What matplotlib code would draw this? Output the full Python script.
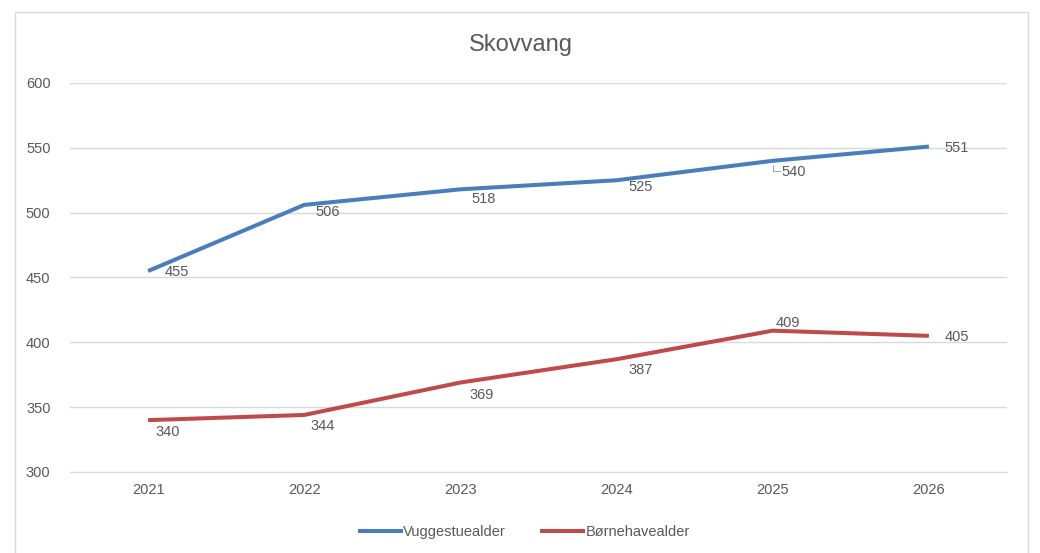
import matplotlib
matplotlib.use("Agg")
import matplotlib.pyplot as plt
from matplotlib.patches import Rectangle
from matplotlib.lines import Line2D

years = ["2021", "2022", "2023", "2024", "2025", "2026"]
vuggestue = [455, 506, 518, 525, 540, 551]
boernehave = [340, 344, 369, 387, 409, 405]
series_names = ["Vuggestuealder", "Børnehavealder"]
title = "Skovvang"

blue = "#4A7EBB"
red = "#BE4B48"
txt = "#595959"
font = "Liberation Sans"
plt.rcParams["font.family"] = [font, "DejaVu Sans"]

fig = plt.figure(figsize=(10.4, 5.53), dpi=100)
ax = fig.add_axes([70/1040, 1-472/553, (1007-70)/1040, (472-83)/553])

x = list(range(len(years)))
ax.plot(x, vuggestue, color=blue, lw=2.9, solid_capstyle="butt", label=series_names[0])
ax.plot(x, boernehave, color=red, lw=2.9, solid_capstyle="butt", label=series_names[1])

ax.set_xlim(-0.5, len(years) - 0.5)
ax.set_ylim(300, 600)
ax.set_yticks(range(300, 601, 50))
ax.set_xticks(x)
ax.set_xticklabels(years)
ax.grid(axis="y", color="#d9d9d9", lw=1)
ax.set_axisbelow(True)
for s in ax.spines.values():
    s.set_visible(False)
ax.spines["bottom"].set_visible(True)
ax.spines["bottom"].set_color("#d9d9d9")
ax.tick_params(length=0, labelsize=10.5, labelcolor=txt, pad=8)
ax.tick_params(axis="y", pad=14)

# label offsets in pixels (dx, dy), dy downward positive
px = 0.72
off_b = [(29, 1), (23, 7), (23, 10), (24, 7), (21, 11), (28, 1)]
off_r = [(20, 12), (18, 11), (21, 12), (24, 11), (15, -8), (28, 1)]
for i, v in enumerate(vuggestue):
    dx, dy = off_b[i]
    ax.annotate(str(v), (i, v), xytext=(dx*px, -dy*px), textcoords="offset points",
                ha="center", va="center", fontsize=10.5, color=txt)
for i, v in enumerate(boernehave):
    dx, dy = off_r[i]
    ax.annotate(str(v), (i, v), xytext=(dx*px, -dy*px), textcoords="offset points",
                ha="center", va="center", fontsize=10.5, color=txt)

# leader line for the 540 label
ax.annotate("", xy=(4, 540), xytext=(7*px, -10*px), textcoords="offset points",
            arrowprops=dict(arrowstyle="-", color="#a6a6a6", lw=0.8,
                            shrinkA=0, shrinkB=3,
                            connectionstyle="angle,angleA=0,angleB=90,rad=0"))

fig.text(521/1040, 1-45/553, title, ha="center", va="center", fontsize=17, color=txt)

handles = [Line2D([0], [0], color=blue, lw=2.9), Line2D([0], [0], color=red, lw=2.9)]
fig.legend(handles, series_names, loc="center", bbox_to_anchor=(525/1040, 1-532/553),
           ncol=2, frameon=False, fontsize=10.5, labelcolor=txt, handlelength=2.8,
           handletextpad=0.15, columnspacing=2.5)

fig.patches.append(Rectangle((15/1040, -0.01), (1028-15)/1040, 1-12/553+0.01,
                             transform=fig.transFigure, fill=False,
                             edgecolor="#d9d9d9", lw=1))
fig.savefig("out.png", dpi=100)
